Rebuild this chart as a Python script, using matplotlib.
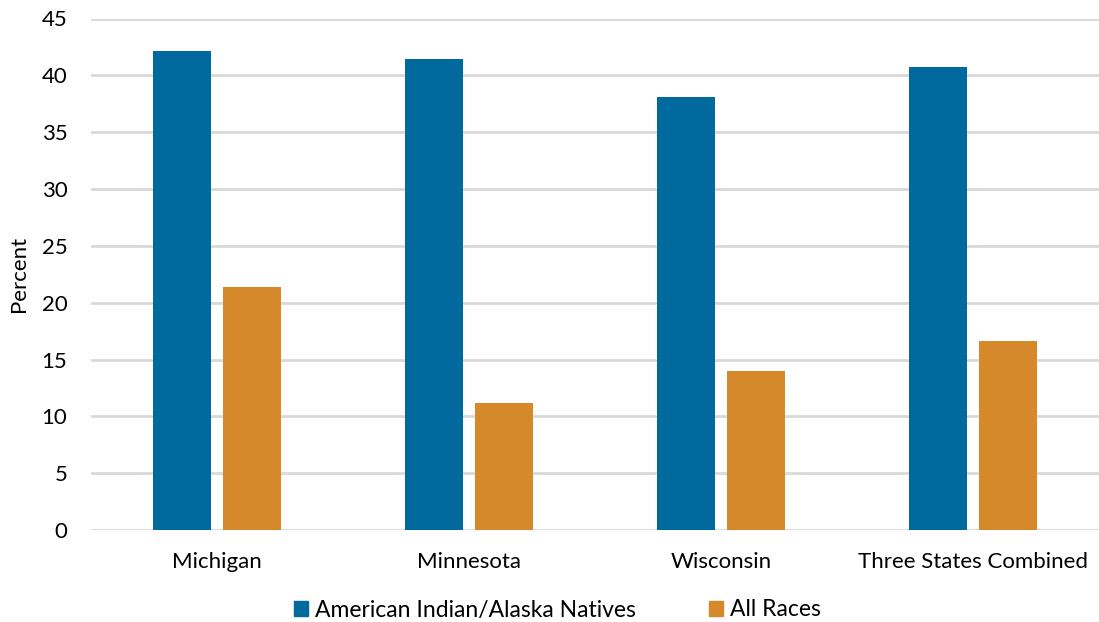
import numpy as np
import matplotlib.pyplot as plt
from matplotlib.patches import Patch

# Data ------------------------------------------------------------
categories = ['Michigan', 'Minnesota', 'Wisconsin', 'Three States Combined']
aian = [42.1, 41.4, 38.1, 40.7]       # American Indian/Alaska Natives
all_races = [21.4, 11.2, 14.0, 16.6]  # All Races
series_names = ['American Indian/Alaska Natives', 'All Races']
yticks = [0, 5, 10, 15, 20, 25, 30, 35, 40, 45]

# Style -----------------------------------------------------------
blue = '#006a9e'
orange = '#d6892b'
grid_col = '#d9d9d9'
plt.rcParams['font.family'] = ['Lato', 'DejaVu Sans']
fs = 16

fig = plt.figure(figsize=(10.99, 6.22), dpi=100)
ax = fig.add_axes([91/1099, 1-530/622, 1-91/1099, (530-18.5)/622])

x = np.arange(len(categories))
w = 0.23
ax.bar(x - 0.14, aian, w, color=blue, zorder=3)
ax.bar(x + 0.14, all_races, w, color=orange, zorder=3)

ax.set_xlim(-0.5, len(categories) - 0.5)
ax.set_ylim(0, 45)
ax.set_yticks(yticks)
ax.set_xticks(x)
ax.set_xticklabels(categories, fontsize=fs)
ax.tick_params(axis='y', labelsize=fs, length=0, pad=17)
ax.tick_params(axis='x', length=0, pad=16)
ax.yaxis.grid(True, color=grid_col, linewidth=2)
ax.set_axisbelow(True)
for s in ax.spines.values():
    s.set_visible(False)

fig.text(19/1099, 1-274/622, 'Percent', rotation=90, fontsize=fs,
         ha='center', va='center')

handles = [Patch(color=blue), Patch(color=orange)]
fig.legend(handles, series_names, loc='center', bbox_to_anchor=(0.507, 1-610/622),
           ncol=2, frameon=False, fontsize=16.5, handlelength=0.62, handleheight=0.62,
           handletextpad=0.3, columnspacing=3.2)

fig.savefig('out.png', dpi=100)
